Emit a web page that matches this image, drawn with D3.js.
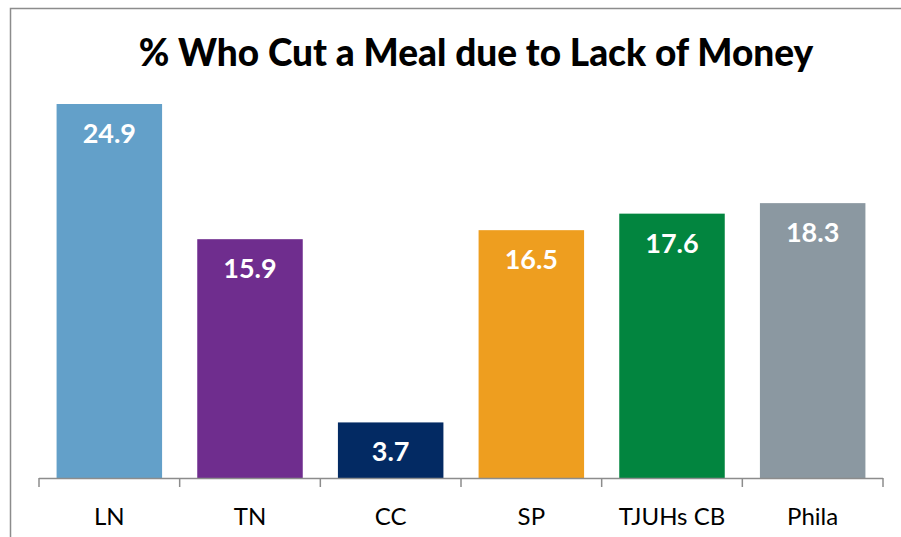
<!DOCTYPE html>
<html>
<head>
<meta charset="utf-8">
<script src="https://cdn.jsdelivr.net/npm/d3@7"></script>
<style>
  body { margin: 0; background: #fff; }
  svg { display: block; font-family: Lato, "Liberation Sans", sans-serif; }
</style>
</head>
<body>
<div id="chart"></div>
<script>
var categories = ["LN", "TN", "CC", "SP", "TJUHs CB", "Phila"];
var values = [24.9, 15.9, 3.7, 16.5, 17.6, 18.3];
var colors = ["#63a0c9", "#6f2d8e", "#032a63", "#ee9e1f", "#02853f", "#8b98a1"];
var title = "% Who Cut a Meal due to Lack of Money";

var width = 901, height = 537;
var margin = {top: 102.5, right: 18, bottom: 59, left: 39};

var svg = d3.select("#chart").append("svg")
  .attr("width", width)
  .attr("height", height);

// outer chart border
svg.append("rect")
  .attr("x", 10.5).attr("y", 8.5)
  .attr("width", 900).attr("height", 540)
  .attr("fill", "none")
  .attr("stroke", "#8c8c8c")
  .attr("stroke-width", 1.5);

svg.append("text")
  .attr("x", 476)
  .attr("y", 66)
  .attr("text-anchor", "middle")
  .style("font-size", "37px")
  .style("font-weight", "900")
  .text(title);

var x = d3.scaleBand()
  .domain(categories)
  .range([margin.left, width - margin.right])
  .paddingInner(0.25)
  .paddingOuter(0.125);

var y = d3.scaleLinear()
  .domain([0, 25])
  .range([height - margin.bottom, margin.top]);

var data = categories.map(function(c, i) { return {cat: c, val: values[i], color: colors[i]}; });

svg.selectAll(".bar")
  .data(data)
  .enter().append("rect")
    .attr("class", "bar")
    .attr("x", function(d) { return x(d.cat); })
    .attr("y", function(d) { return y(d.val); })
    .attr("width", x.bandwidth())
    .attr("height", function(d) { return y(0) - y(d.val); })
    .attr("fill", function(d) { return d.color; });

svg.selectAll(".val")
  .data(data)
  .enter().append("text")
    .attr("class", "val")
    .attr("x", function(d) { return x(d.cat) + x.bandwidth() / 2; })
    .attr("y", function(d) { return y(d.val) + 39; })
    .attr("text-anchor", "middle")
    .attr("fill", "#fff")
    .style("font-size", "27px")
    .style("font-weight", "bold")
    .text(function(d) { return d.val.toFixed(1); });

// category axis: ticks between categories
var xAxis = d3.axisBottom(x).tickSize(0).tickPadding(0);
var axisG = svg.append("g")
  .attr("transform", "translate(0," + y(0) + ")")
  .call(xAxis);
axisG.select(".domain").remove();
axisG.selectAll("text")
  .attr("y", 47)
  .attr("dy", null)
  .attr("fill", "#000")
  .style("font-size", "24px")
  .style("font-family", "Lato, sans-serif");

var step = x.step();
var bounds = d3.range(categories.length + 1).map(function(i) { return margin.left + i * step; });
axisG.append("line")
  .attr("x1", bounds[0]).attr("x2", bounds[bounds.length - 1])
  .attr("y1", 0.5).attr("y2", 0.5)
  .attr("stroke", "#8c8c8c").attr("stroke-width", 1.5);
axisG.selectAll(".sep")
  .data(bounds)
  .enter().append("line")
    .attr("class", "sep")
    .attr("x1", function(d) { return d; }).attr("x2", function(d) { return d; })
    .attr("y1", 0).attr("y2", 9)
    .attr("stroke", "#8c8c8c").attr("stroke-width", 1.5);
</script>
</body>
</html>
